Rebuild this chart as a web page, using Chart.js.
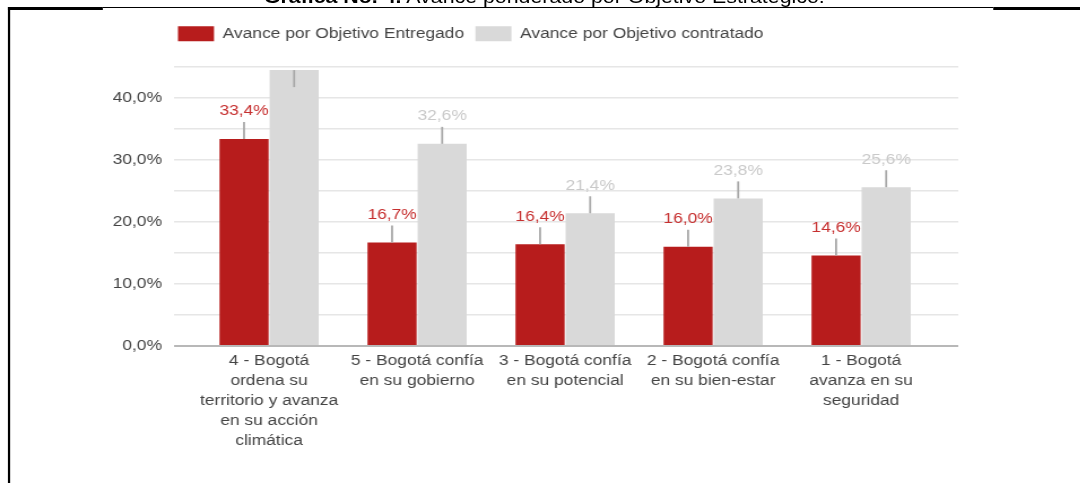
<!DOCTYPE html>
<html>
<head>
    <meta charset="utf-8">
    <title>Avance ponderado por Objetivo Estratégico</title>
    <script src="https://cdn.jsdelivr.net/npm/chart.js"></script>
    <style>
        html, body { margin: 0; padding: 0; background: #fff; overflow: hidden; }
        /* la captura original está estirada a lo ancho: se dibuja en 956px y se escala */
        #wrap { position: absolute; left: 0; top: 0; width: 956px; height: 483px;
                transform: scaleX(1.13); transform-origin: 0 0; }
        #chart { position: absolute; left: 0; top: 0; }
        .borde-izq { position: absolute; left: 7.1px; top: 7px; width: 2.3px; height: 480px; background: #000; }
        .borde-top { position: absolute; top: 7px; background: #000; }
        .titulo { position: absolute; left: 233.5px; top: -12.5px; line-height: 18px; white-space: nowrap;
                  font-family: "Liberation Sans", Arial, sans-serif; font-size: 18.9px; color: #000; }
    </style>
</head>
<body>
<div id="wrap">
    <div class="titulo"><b>Gráfica No. 4.</b> Avance ponderado por Objetivo Estratégico.</div>
    <div class="borde-top" style="left:7.1px; width:84px; height:2.5px;"></div>
    <div class="borde-top" style="left:91px; width:788px; height:1.3px;"></div>
    <div class="borde-top" style="left:879px; width:80px; height:2.5px;"></div>
    <div class="borde-izq"></div>
    <canvas id="chart" width="956" height="483"></canvas>
</div>

<script>
    // Datos (porcentajes)
    const categorias = [
        ['4 - Bogotá', 'ordena su', 'territorio y avanza', 'en su acción', 'climática'],
        ['5 - Bogotá confía', 'en su gobierno'],
        ['3 - Bogotá confía', 'en su potencial'],
        ['2 - Bogotá confía', 'en su bien-estar'],
        ['1 - Bogotá', 'avanza en su', 'seguridad']
    ];
    const entregado = [33.4, 16.7, 16.4, 16.0, 14.6];
    const contratado = [44.5, 32.6, 21.4, 23.8, 25.6];
    const ticksY = [0, 5, 10, 15, 20, 25, 30, 35, 40, 45];

    const ROJO = '#b71c1c';
    const GRIS = '#d9d9d9';
    const FUENTE = { family: '"Liberation Sans", Arial, sans-serif', size: 15.4 };

    function formato(v) {
        return v.toFixed(1).replace('.', ',') + '%';
    }

    // Espacio extra bajo la leyenda y leyenda alineada con el área del gráfico
    const ajusteLeyenda = {
        id: 'ajusteLeyenda',
        beforeInit(chart) {
            const fit = chart.legend.fit;
            chart.legend.fit = function() {
                fit.bind(chart.legend)();
                this.height += 15.6;
            };
        },
        afterLayout(chart) {
            chart.legend.left += 58.5;
            chart.legend.right += 58.5;
        }
    };

    // Anotaciones con "tallo" encima de cada barra
    const anotaciones = {
        id: 'anotaciones',
        afterDatasetsDraw(chart) {
            const ctx = chart.ctx;
            const area = chart.chartArea;
            ctx.save();
            chart.data.datasets.forEach((ds, i) => {
                const meta = chart.getDatasetMeta(i);
                meta.data.forEach((bar, j) => {
                    const x = bar.x;
                    const y = bar.y;
                    ctx.strokeStyle = '#a8a8a8';
                    ctx.lineWidth = 1.8;
                    ctx.beginPath();
                    if (y - 30 < area.top) {
                        // no cabe encima: el tallo va dentro de la barra
                        ctx.moveTo(x, y);
                        ctx.lineTo(x, y + 17);
                        ctx.stroke();
                        return;
                    }
                    ctx.moveTo(x, y);
                    ctx.lineTo(x, y - 17);
                    ctx.stroke();
                    ctx.fillStyle = ds.labelColor;
                    ctx.font = FUENTE.size + 'px ' + FUENTE.family;
                    ctx.textAlign = 'center';
                    ctx.textBaseline = 'alphabetic';
                    ctx.fillText(formato(ds.data[j]), x, y - 23.5);
                });
            });
            ctx.restore();
        }
    };

    const ctx = document.getElementById('chart').getContext('2d');
    const chart = new Chart(ctx, {
        type: 'bar',
        data: {
            labels: categorias.map((c, i) => i),
            datasets: [
                {
                    label: 'Avance por Objetivo Entregado',
                    data: entregado,
                    backgroundColor: ROJO,
                    labelColor: '#c62f2f',
                    borderWidth: 0
                },
                {
                    label: 'Avance por Objetivo contratado',
                    data: contratado,
                    backgroundColor: GRIS,
                    labelColor: '#c9c9c9',
                    borderWidth: 0
                }
            ]
        },
        options: {
            responsive: false,
            animation: false,
            categoryPercentage: 0.677,
            barPercentage: 0.98,
            layout: {
                padding: { left: 89, right: 108, top: 16, bottom: 27 }
            },
            plugins: {
                tooltip: { enabled: false },
                legend: {
                    position: 'top',
                    align: 'start',
                    labels: {
                        boxWidth: 31.9,
                        boxHeight: 15,
                        padding: 10,
                        color: '#444',
                        font: FUENTE
                    }
                }
            },
            scales: {
                x: {
                    type: 'linear',
                    offset: false,
                    min: -0.642,
                    max: 4.656,
                    afterBuildTicks: scale => {
                        scale.ticks = categorias.map((c, i) => ({ value: i }));
                    },
                    ticks: {
                        autoSkip: false,
                        maxRotation: 0,
                        padding: 5,
                        color: '#444',
                        font: Object.assign({ lineHeight: 1.3 }, FUENTE),
                        callback: v => categorias[v]
                    },
                    grid: { display: false, drawTicks: false, offset: false },
                    border: { display: false }
                },
                y: {
                    min: 0,
                    max: 45,
                    afterBuildTicks: scale => {
                        scale.ticks = ticksY.map(v => ({ value: v }));
                    },
                    ticks: {
                        padding: 10.7,
                        color: '#444',
                        font: FUENTE,
                        callback: v => (v % 10 === 0 ? formato(v) : '')
                    },
                    grid: {
                        drawTicks: false,
                        color: c => (c.tick && c.tick.value === 0 ? '#b8b8b8' : '#e6e6e6'),
                        lineWidth: c => (c.tick && c.tick.value === 0 ? 2 : 1.5)
                    },
                    border: { display: false }
                }
            }
        },
        plugins: [ajusteLeyenda, anotaciones]
    });
</script>
</body>
</html>
